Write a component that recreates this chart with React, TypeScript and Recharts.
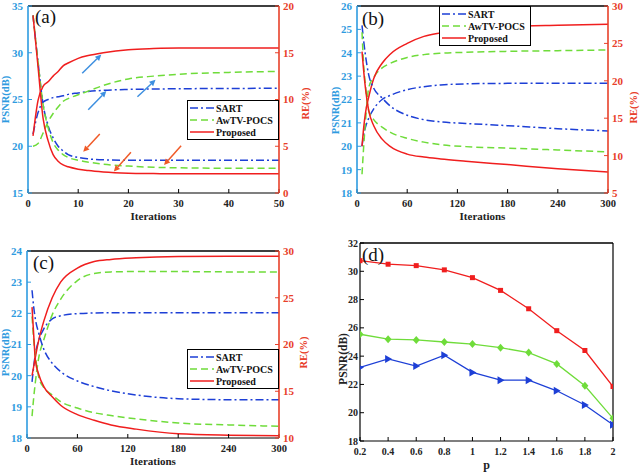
import React from 'react';
import { LineChart, Line, XAxis, YAxis, Legend, Label, ReferenceLine } from 'recharts';

const FONT = '"Liberation Serif", "Times New Roman", serif';
const AX_BLUE = '#2e9be0';
const AX_RED = '#e8402a';
const C_SART = '#1d3fd6';
const C_AWTV = '#6fdc3a';
const C_PROP = '#f01e1e';

// ---- (a) 50 iterations ----
const itersA = [1, 2, 3, 4, 5, 6, 7, 8, 10, 12, 15, 20, 25, 30, 40, 50];
const psnrPropA = [21.1, 24.9, 26.4, 26.9, 27.5, 28.0, 28.6, 28.9, 29.4, 29.7, 30.0, 30.33, 30.45, 30.5, 30.5, 30.5];
const psnrSartA = [21.3, 23.6, 24.7, 25.0, 25.2, 25.3, 25.4, 25.55, 25.7, 25.85, 25.98, 26.08, 26.12, 26.15, 26.18, 26.2];
const psnrAwtvA = [20.0, 20.3, 21.4, 22.6, 23.5, 24.2, 24.8, 25.1, 25.5, 25.9, 26.5, 27.2, 27.5, 27.7, 27.9, 28.0];
const rePropA = [19.0, 13.5, 8.0, 5.6, 4.1, 3.4, 3.0, 2.8, 2.55, 2.4, 2.25, 2.12, 2.08, 2.05, 2.05, 2.05];
const reSartA = [19.0, 14.0, 9.5, 7.2, 5.9, 5.0, 4.5, 4.1, 3.8, 3.65, 3.55, 3.5, 3.5, 3.5, 3.5, 3.5];
const reAwtvA = [19.0, 14.0, 9.5, 7.0, 5.4, 4.6, 4.1, 3.8, 3.5, 3.3, 3.08, 2.88, 2.75, 2.7, 2.65, 2.65];
const xTicksA = [0, 10, 20, 30, 40, 50];
const psnrTicksA = [15, 20, 25, 30, 35];
const reTicksA = [0, 5, 10, 15, 20];
// arrows: [fromIter, fromPsnr, toIter, toPsnr]
const arrowsUpA = [[10.8, 27.8, 14.6, 29.8], [12.0, 23.9, 15.6, 25.9], [21.8, 25.3, 25.4, 27.1]];
const arrowsDownA = [[14.3, 21.3, 11.0, 19.4], [20.5, 19.35, 17.1, 17.3], [30.5, 20.05, 27.1, 18.0]];

// ---- (b) 300 iterations ----
const itersB = [6, 8, 10, 14, 20, 30, 40, 60, 80, 100, 130, 180, 240, 300];
const psnrPropB = [20.0, 20.8, 21.4, 22.1, 22.9, 23.55, 23.95, 24.4, 24.7, 24.85, 25.0, 25.12, 25.18, 25.22];
const psnrSartB = [20.0, 20.5, 20.8, 21.2, 21.6, 22.0, 22.18, 22.42, 22.55, 22.62, 22.67, 22.69, 22.7, 22.7];
const psnrAwtvB = [18.8, 20.0, 21.0, 22.5, 22.95, 23.35, 23.55, 23.8, 23.92, 23.98, 24.02, 24.06, 24.09, 24.12];
const rePropB = [23.9, 21.3, 19.1, 16.0, 14.0, 12.2, 11.2, 10.2, 9.8, 9.55, 9.25, 8.8, 8.25, 7.8];
const reSartB = [27.4, 25.3, 23.5, 20.8, 19.0, 17.7, 16.6, 15.4, 14.8, 14.5, 14.3, 14.0, 13.6, 13.3];
const reAwtvB = [26.5, 22.0, 19.5, 16.0, 14.8, 13.8, 13.1, 12.3, 11.8, 11.45, 11.2, 11.0, 10.75, 10.5];
const xTicks300 = [0, 60, 120, 180, 240, 300];
const psnrTicksB = [18, 19, 20, 21, 22, 23, 24, 25, 26];
const reTicksB = [5, 10, 15, 20, 25, 30];

// ---- (c) 300 iterations ----
const itersC = [6, 8, 10, 14, 20, 30, 40, 60, 80, 100, 130, 180, 240, 300];
const psnrPropC = [20.0, 20.3, 20.6, 21.14, 21.75, 22.5, 23.0, 23.45, 23.66, 23.73, 23.78, 23.82, 23.83, 23.83];
const psnrSartC = [19.8, 20.3, 20.7, 21.14, 21.5, 21.82, 21.92, 21.99, 22.01, 22.02, 22.02, 22.02, 22.02, 22.02];
const psnrAwtvC = [18.7, 19.3, 19.8, 20.58, 21.15, 21.95, 22.45, 23.05, 23.28, 23.33, 23.34, 23.34, 23.33, 23.33];
const rePropC = [24.0, 21.0, 18.3, 16.8, 15.5, 14.4, 13.5, 12.5, 11.9, 11.4, 10.95, 10.45, 10.3, 10.25];
const reSartC = [25.8, 24.0, 22.7, 21.2, 19.5, 18.0, 17.1, 16.1, 15.5, 15.05, 14.6, 14.2, 14.1, 14.1];
const reAwtvC = [23.0, 20.5, 18.8, 16.5, 15.4, 14.6, 13.9, 13.2, 12.7, 12.4, 12.05, 11.6, 11.4, 11.25];
const psnrTicksC = [18, 19, 20, 21, 22, 23, 24];
const reTicksC = [10, 15, 20, 25, 30];

// ---- (d) PSNR vs p ----
const pD = [0.2, 0.4, 0.6, 0.8, 1, 1.2, 1.4, 1.6, 1.8, 2];
const propD = [30.75, 30.5, 30.4, 30.1, 29.55, 28.65, 27.35, 25.8, 24.4, 21.85];
const awtvD = [25.55, 25.2, 25.15, 25.0, 24.85, 24.6, 24.25, 23.45, 21.9, 19.6];
const sartD = [23.2, 23.8, 23.3, 24.07, 22.85, 22.3, 22.3, 21.55, 20.55, 19.15];
const psnrTicksD = [18, 20, 22, 24, 26, 28, 30, 32];

const methods = [
  { key: 'sart', name: 'SART', color: C_SART, dash: '8 3 2 3' },
  { key: 'awtv', name: 'AwTV-POCS', color: C_AWTV, dash: '7 4' },
  { key: 'prop', name: 'Proposed', color: C_PROP, dash: undefined as string | undefined },
];

function buildRows(xs: number[], cols: Record<string, number[]>) {
  return xs.map((x, i) => {
    const r: any = { x };
    Object.keys(cols).forEach((k) => (r[k] = cols[k][i]));
    return r;
  });
}

const dataA = buildRows(itersA, { psart: psnrSartA, pawtv: psnrAwtvA, pprop: psnrPropA, rsart: reSartA, rawtv: reAwtvA, rprop: rePropA });
const dataB = buildRows(itersB, { psart: psnrSartB, pawtv: psnrAwtvB, pprop: psnrPropB, rsart: reSartB, rawtv: reAwtvB, rprop: rePropB });
const dataC = buildRows(itersC, { psart: psnrSartC, pawtv: psnrAwtvC, pprop: psnrPropC, rsart: reSartC, rawtv: reAwtvC, rprop: rePropC });
const dataD = buildRows(pD, { sart: sartD, awtv: awtvD, prop: propD });

const tickStyle = (fill: string, size = 11) => ({ fill, fontSize: size, fontFamily: FONT, fontWeight: 'bold' as const });

const vLabel = (text: string, color: string, dx: number, dy: number, size = 10.5) => (props: any) => {
  const vb = props.viewBox;
  const cx = vb.x + dx;
  const cy = vb.y + vb.height / 2 + dy;
  return (
    <text x={cx} y={cy} transform={`rotate(-90 ${cx} ${cy})`} textAnchor="middle" dominantBaseline="central"
      fill={color} fontFamily={FONT} fontWeight="bold" fontSize={size}>{text}</text>
  );
};

const hLabel = (text: string, dy: number, size = 11) => (props: any) => {
  const vb = props.viewBox;
  return (
    <text x={vb.x + vb.width / 2} y={vb.y + dy} textAnchor="middle" dominantBaseline="central"
      fill="#222" fontFamily={FONT} fontWeight="bold" fontSize={size}>{text}</text>
  );
};

const arrowShape = (color: string) => (p: any) => {
  const { x1, y1, x2, y2 } = p;
  const ang = Math.atan2(y2 - y1, x2 - x1);
  const L = 6, W = 3;
  const bx = x2 - L * Math.cos(ang);
  const by = y2 - L * Math.sin(ang);
  const pts = `${x2},${y2} ${bx - W * Math.sin(ang)},${by + W * Math.cos(ang)} ${bx + W * Math.sin(ang)},${by - W * Math.cos(ang)}`;
  return (
    <g>
      <line x1={x1} y1={y1} x2={bx} y2={by} stroke={color} strokeWidth={1.5} />
      <polygon points={pts} fill={color} />
    </g>
  );
};

const LegendBox = () => (
  <div style={{ width: 92, boxSizing: 'border-box', border: '1.5px solid #000', background: '#fff', padding: '1px 2px',
    fontFamily: FONT, fontWeight: 'bold', fontSize: 10, color: '#111' }}>
    {methods.map((m) => (
      <div key={m.key} style={{ display: 'flex', alignItems: 'center', height: 12 }}>
        <svg width={24} height={6} style={{ marginRight: 2 }}>
          <line x1={0} y1={3} x2={24} y2={3} stroke={m.color} strokeWidth={1.5} strokeDasharray={m.dash} />
        </svg>
        <span>{m.name}</span>
      </div>
    ))}
  </div>
);

type PanelProps = {
  data: any[];
  xMax: number;
  xTicks: number[];
  psnrDomain: [number, number];
  psnrTicks: number[];
  reDomain: [number, number];
  reTicks: number[];
  top: number;
  leftW: number;
  rightW: number;
  xH: number;
  psnrLab: [number, number];
  reLab: [number, number];
  legendPos: { left: number; top: number };
  children?: React.ReactNode;
};

function IterPanel(p: PanelProps) {
  return (
    <LineChart width={320} height={236} data={p.data} margin={{ top: p.top - 1, right: 0, bottom: 0, left: 0 }}>
      <XAxis dataKey="x" type="number" domain={[0, p.xMax]} ticks={p.xTicks} interval={0} allowDataOverflow
        height={p.xH} tickSize={-4} tickMargin={11} stroke="#000" axisLine={{ stroke: '#000', strokeWidth: 1.2 }}
        tick={tickStyle('#222', 10.5)}>
        <Label content={hLabel('Iterations', 23)} />
      </XAxis>
      <XAxis xAxisId="top" orientation="top" dataKey="x" type="number" domain={[0, p.xMax]} ticks={p.xTicks}
        interval={0} allowDataOverflow height={1} tickSize={-4} tick={false} stroke="#000"
        axisLine={{ stroke: '#000', strokeWidth: 1.2 }} />
      <YAxis yAxisId="left" type="number" domain={p.psnrDomain} ticks={p.psnrTicks} interval={0} allowDataOverflow
        width={p.leftW} tickSize={-4} tickMargin={9} stroke={AX_BLUE} axisLine={{ stroke: AX_BLUE, strokeWidth: 1.6 }}
        tick={tickStyle(AX_BLUE)}>
        <Label content={vLabel('PSNR(dB)', AX_BLUE, p.psnrLab[0], p.psnrLab[1])} />
      </YAxis>
      <YAxis yAxisId="right" orientation="right" type="number" domain={p.reDomain} ticks={p.reTicks} interval={0}
        allowDataOverflow width={p.rightW} tickSize={-4} tickMargin={8} stroke={AX_RED}
        axisLine={{ stroke: AX_RED, strokeWidth: 1.6 }} tick={tickStyle(AX_RED)}>
        <Label content={vLabel('RE(%)', AX_RED, p.reLab[0], p.reLab[1])} />
      </YAxis>
      <ReferenceLine yAxisId="left" y={p.psnrDomain[1]} stroke="#000" strokeWidth={1.2} />
      {methods.map((m) => (
        <Line key={'p' + m.key} yAxisId="left" type="monotone" dataKey={'p' + m.key} stroke={m.color} strokeWidth={1.5}
          strokeDasharray={m.dash} dot={false} isAnimationActive={false} />
      ))}
      {methods.map((m) => (
        <Line key={'r' + m.key} yAxisId="right" type="monotone" dataKey={'r' + m.key} stroke={m.color} strokeWidth={1.5}
          strokeDasharray={m.dash} dot={false} isAnimationActive={false} />
      ))}
      {p.children}
      <Legend layout="vertical" align="center" verticalAlign="middle" content={<LegendBox />}
        wrapperStyle={{ left: p.legendPos.left, top: p.legendPos.top, width: 92 }} />
    </LineChart>
  );
}

const squareDot = (color: string) => (d: any) =>
  <rect key={`s${d.index}`} x={d.cx - 2.5} y={d.cy - 2.5} width={5} height={5} fill={color} />;
const diamondDot = (color: string) => (d: any) =>
  <polygon key={`d${d.index}`} points={`${d.cx},${d.cy - 4} ${d.cx + 3.5},${d.cy} ${d.cx},${d.cy + 4} ${d.cx - 3.5},${d.cy}`} fill={color} />;
const triDot = (color: string) => (d: any) =>
  <polygon key={`t${d.index}`} points={`${d.cx + 4},${d.cy} ${d.cx - 3},${d.cy - 4} ${d.cx - 3},${d.cy + 4}`} fill={color} />;

const panelTag = (text: string, left: number, top: number) => (
  <div style={{ position: 'absolute', left, top, fontFamily: FONT, fontSize: 19, lineHeight: '19px', color: '#111' }}>{text}</div>
);

export default function App() {
  return (
    <div style={{ position: 'absolute', left: 0, top: 0, width: 640, height: 472, background: '#fff', overflow: 'hidden' }}>
      <div style={{ position: 'absolute', left: 0, top: 0 }}>
        <IterPanel data={dataA} xMax={50} xTicks={xTicksA} psnrDomain={[15, 35]} psnrTicks={psnrTicksA}
          reDomain={[0, 20]} reTicks={reTicksA} top={6} leftW={28} rightW={41} xH={43}
          psnrLab={[5, 0]} reLab={[26, 4]} legendPos={{ left: 187, top: 100 }}>
          {arrowsUpA.map((a, i) => (
            <ReferenceLine key={'u' + i} yAxisId="left" segment={[{ x: a[0], y: a[1] }, { x: a[2], y: a[3] }]}
              stroke="#3d8fe0" shape={arrowShape('#3d8fe0')} ifOverflow="visible" />
          ))}
          {arrowsDownA.map((a, i) => (
            <ReferenceLine key={'d' + i} yAxisId="left" segment={[{ x: a[0], y: a[1] }, { x: a[2], y: a[3] }]}
              stroke="#f05a28" shape={arrowShape('#f05a28')} ifOverflow="visible" />
          ))}
        </IterPanel>
      </div>
      <div style={{ position: 'absolute', left: 320, top: 0 }}>
        <IterPanel data={dataB} xMax={300} xTicks={xTicks300} psnrDomain={[18, 26]} psnrTicks={psnrTicksB}
          reDomain={[5, 30]} reTicks={reTicksB} top={6} leftW={37} rightW={32} xH={43}
          psnrLab={[15, 11]} reLab={[25, 8]} legendPos={{ left: 119, top: 6 }} />
      </div>
      <div style={{ position: 'absolute', left: 0, top: 236 }}>
        <IterPanel data={dataC} xMax={300} xTicks={xTicks300} psnrDomain={[18, 24]} psnrTicks={psnrTicksC}
          reDomain={[10, 30]} reTicks={reTicksC} top={15} leftW={27} rightW={41} xH={34}
          psnrLab={[5, 8]} reLab={[24, 8]} legendPos={{ left: 187, top: 113 }} />
      </div>
      <div style={{ position: 'absolute', left: 320, top: 236 }}>
        <LineChart width={320} height={236} data={dataD} margin={{ top: 6, right: 0, bottom: 0, left: 0 }}>
          <XAxis dataKey="x" type="number" domain={[0.2, 2]} ticks={pD} interval={0} allowDataOverflow height={31}
            tickSize={-4} tickMargin={11} stroke="#000" axisLine={{ stroke: '#000', strokeWidth: 1.2 }}
            tick={tickStyle('#222', 10)} tickFormatter={(v: number) => String(v)}>
            <Label content={hLabel('p', 24, 12)} />
          </XAxis>
          <XAxis xAxisId="top" orientation="top" dataKey="x" type="number" domain={[0.2, 2]} ticks={pD} interval={0}
            allowDataOverflow height={1} tickSize={-4} tick={false} stroke="#000"
            axisLine={{ stroke: '#000', strokeWidth: 1.2 }} />
          <YAxis yAxisId="left" type="number" domain={[18, 32]} ticks={psnrTicksD} interval={0} width={40}
            tickSize={-4} tickMargin={6} stroke="#000" axisLine={{ stroke: '#000', strokeWidth: 1.2 }}
            tick={tickStyle('#222', 10)}>
            <Label content={vLabel('PSNR(dB)', '#222', 23, 17, 11.5)} />
          </YAxis>
          <YAxis yAxisId="right" orientation="right" type="number" domain={[18, 32]} ticks={psnrTicksD} interval={0}
            width={27} tickSize={-4} tick={false} stroke="#000" axisLine={{ stroke: '#000', strokeWidth: 1.2 }} />
          <ReferenceLine yAxisId="left" y={32} stroke="#000" strokeWidth={1.2} />
          <Line yAxisId="left" type="linear" dataKey="prop" stroke={C_PROP} strokeWidth={1.3} dot={squareDot(C_PROP)}
            isAnimationActive={false} />
          <Line yAxisId="left" type="linear" dataKey="awtv" stroke={C_AWTV} strokeWidth={1.3} dot={diamondDot(C_AWTV)}
            isAnimationActive={false} />
          <Line yAxisId="left" type="linear" dataKey="sart" stroke={C_SART} strokeWidth={1.3} dot={triDot(C_SART)}
            isAnimationActive={false} />
        </LineChart>
      </div>
      {panelTag('(a)', 35, 7)}
      {panelTag('(b)', 362, 9)}
      {panelTag('(c)', 33, 253)}
      {panelTag('(d)', 362, 245)}
    </div>
  );
}
